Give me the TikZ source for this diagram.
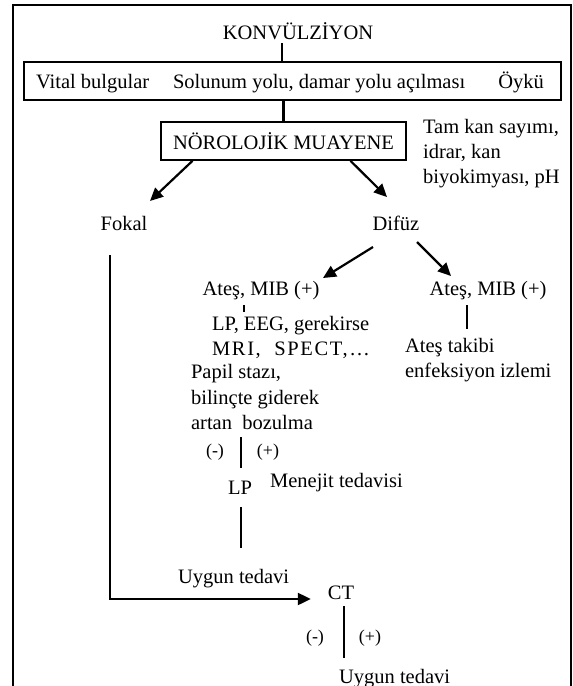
\documentclass[tikz,border=0pt]{standalone}
\usepackage{fontspec}
\setmainfont{Liberation Serif}
\usetikzlibrary{calc, positioning, arrows.meta}

\begin{document}
\begin{tikzpicture}[x=1pt, y=-1pt, line width=2.2pt]%{{{
        \useasboundingbox (0, 0) rectangle (573, 686);

        \tikzstyle{t} = [inner sep=0pt, anchor=base, font=\fontsize{20.5}{24}\selectfont];
        \tikzstyle{tw} = [t, anchor=base west];
        \tikzstyle{pm} = [t, font=\fontsize{18}{22}\selectfont];
        \tikzstyle{a} = [-{Triangle[length=13pt, width=12pt]}];
        \tikzstyle{box} = [draw, inner sep=0pt, font=\fontsize{20.5}{24}\selectfont];

        % frame
        \draw [line width=2.4pt] (13, 690) -- (13, 5) -- (571, 5) -- (571, 690);

        \node [t] (K) at (298, 39) {KONVÜLZİYON};

        \node [box, minimum width=537, minimum height=38] (B) at (292.5, 81) { };
        \node [tw] (B1) at (35, 88) {Vital bulgular};
        \node [tw] (B2) at (172, 88) {Solunum yolu, damar yolu açılması};
        \node [t, anchor=base east] (B3) at (545, 88) {Öykü};

        \node [box, minimum width=245, minimum height=37.5] (N) at (283.5, 141) {NÖROLOJİK MUAYENE};

        \foreach \y/\s in {133/{Tam kan sayımı,}, 158/{idrar, kan}, 183/{biyokimyası, pH}}{
            \node [tw] (H\y) at (422, \y) {\s};
        }

        \node [t] (F) at (124, 230) {Fokal};
        \node [t] (D) at (396, 230) {Difüz};

        \node [t] (A1) at (261, 295) {Ateş, MIB (+)};
        \node [t] (A2) at (488, 295) {Ateş, MIB (+)};

        \node [tw] (L1) at (211, 330) {LP, EEG, gerekirse};
        \node [tw] (L2) at (211, 355) {\addfontfeature{LetterSpace=8}MRI,~ SPECT,\dots};

        \node [tw] (T1) at (404, 352) {Ateş takibi};
        \node [tw] (T2) at (404, 377) {enfeksiyon izlemi};

        \node [tw] (P1) at (190, 378) {Papil stazı,};
        \node [tw] (P2) at (190, 404) {bilinçte giderek};
        \node [tw] (P3) at (190, 429) {artan\ \ bozulma};

        \node [pm] (M1) at (215, 456) {(-)};
        \node [pm] (M2) at (268, 456) {(+)};

        \node [t] (LP) at (240, 494) {LP};
        \node [tw] (MT) at (269, 487) {Menejit tedavisi};

        \node [tw] (U1) at (177, 583) {Uygun tedavi};

        \node [t] (CT) at (341, 599) {CT};
        \node [pm] (M3) at (315, 642) {(-)};
        \node [pm] (M4) at (370, 642) {(+)};
        \node [tw] (U2) at (338, 683) {Uygun tedavi};

        % connectors
        \coordinate (K1) at ($(K.base) + (-16, 4)$);
        \draw (K1) -- (K1 |- B.north);
        \draw (B.south -| N.north) -- (N.north);

        \draw [a] ($(N.south) + (-91, 0)$) -- ($(F.base) + (26, -29)$);
        \draw [a] ($(N.south) + ( 67, 0)$) -- ($(D.base) + (-9, -33)$);

        \draw [a] ($(D.base) + (-23, 17)$) -- ($(A1.base) + (62, -17)$);
        \draw [a] ($(D.base) + ( 21, 12)$) -- ($(A2.base) + (-37, -19)$);

        \draw [line width=1.6pt] ($(A1.base) + (-17, 10)$) -- ++(0, 7);
        \draw ($(A2.base) + (-21, 10)$) -- ++(0, 24);

        \coordinate (C1) at ($(LP.base) + (1, -57)$);
        \draw (C1) -- ++(0, 31);
        \draw ($(LP.base) + (1, 13)$) -- ++(0, 41);

        \coordinate (F1) at ($(F.base) + (-14, 25)$);
        \draw [a] (F1) -- (F1 |- CT.base) -- ($(CT.west |- CT.base) + (-16, 0)$);

        \draw ($(CT.base) + (3, 7)$) -- ++(0, 52);
\end{tikzpicture}
\end{document}
